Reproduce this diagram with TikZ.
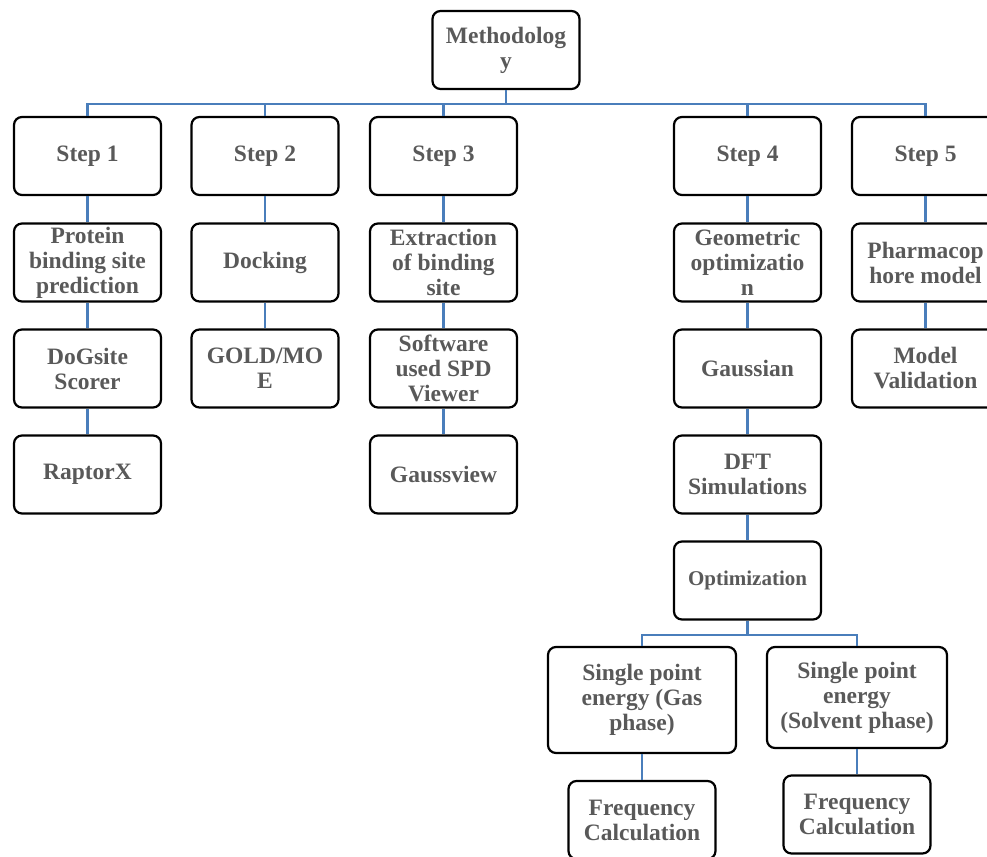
\documentclass[tikz,border=0pt]{standalone}
\usepackage{fontspec}
\setmainfont{LiberationSerif}[Extension=.ttf, UprightFont=*-Regular, BoldFont=*-Bold]
\usepackage{tikz}
\definecolor{linkblue}{RGB}{74,126,187}
\definecolor{textgray}{RGB}{89,89,89}

\begin{document}
\begin{tikzpicture}[x=1pt,y=-1pt,
    box/.style={draw, line width=2.2pt, rounded corners=8pt, minimum width=147pt, minimum height=78pt,
      inner sep=0pt, align=center, text=textgray, font=\bfseries\fontsize{23.5}{25}\selectfont},
    link/.style={draw=linkblue, line width=2.2pt}]
    \useasboundingbox (0,0) rectangle (987,856);
    % top
    \node[box] (meth) at (506,50) {Methodolog\\y};
    % steps
    \node[box] (s1) at (87.5,156) {Step 1};
    \node[box] (s2) at (265,156) {Step 2};
    \node[box] (s3) at (443.5,156) {Step 3};
    \node[box] (s4) at (747.5,156) {Step 4};
    \node[box] (s5) at (925.5,156) {Step 5};
    % second row
    \node[box] (pred) at (87.5,262.5) {Protein\\binding site\\prediction};
    \node[box] (dock) at (265,262.5) {Docking};
    \node[box] (extr) at (443.5,262.5) {Extraction\\of binding\\site};
    \node[box] (geom) at (747.5,262.5) {Geometric\\optimizatio\\n};
    \node[box] (pharm) at (925.5,262.5) {Pharmacop\\hore model};
    % third row
    \node[box] (dogs) at (87.5,368.5) {DoGsite\\Scorer};
    \node[box] (gold) at (265,368.5) {GOLD/MO\\E};
    \node[box] (soft) at (443.5,368.5) {Software\\used SPD\\Viewer};
    \node[box] (gaus) at (747.5,368.5) {Gaussian};
    \node[box] (valid) at (925.5,368.5) {Model\\Validation};
    % fourth row
    \node[box] (rapt) at (87.5,474.5) {RaptorX};
    \node[box] (gview) at (443.5,474.5) {Gaussview};
    \node[box] (dft) at (747.5,474.5) {DFT\\Simulations};
    % DFT branch
    \node[box, font=\bfseries\fontsize{21}{24}\selectfont] (opt) at (747.5,580.5) {Optimization};
    \node[box, minimum width=188pt, minimum height=106pt] (gas) at (642,700) {Single point\\energy (Gas\\phase)};
    \node[box, minimum width=180pt, minimum height=101pt] (solv) at (857,697.5) {Single point\\energy\\(Solvent phase)};
    \node[box] (freqa) at (642,820) {Frequency\\Calculation};
    \node[box] (freqb) at (857,814.5) {Frequency\\Calculation};

    % connectors
    \foreach \s in {s1,s2,s3,s4,s5}
        \draw[link] (meth.south) -- ++(0,14) -| (\s.north);
    \foreach \s in {gas,solv}
        \draw[link] (opt.south) -- ++(0,14) -| (\s.north);
    \foreach \a/\b in {s1/pred, pred/dogs, dogs/rapt, s2/dock, dock/gold, s3/extr, extr/soft, soft/gview,
                       s4/geom, geom/gaus, gaus/dft, dft/opt, s5/pharm, pharm/valid, gas/freqa, solv/freqb}
        \draw[link] (\a) -- (\b);
\end{tikzpicture}
\end{document}
